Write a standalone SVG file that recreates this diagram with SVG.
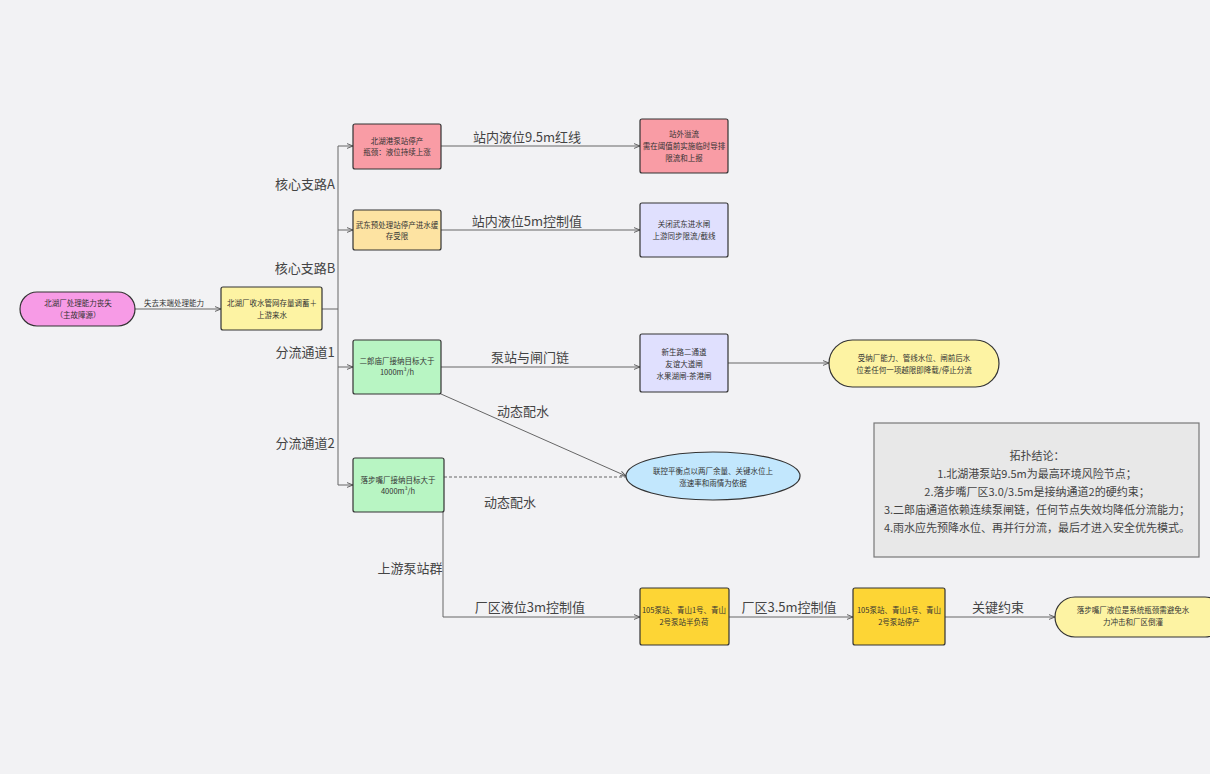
<svg xmlns="http://www.w3.org/2000/svg" width="1210" height="774" viewBox="0 0 1210 774">
<defs>
<marker id="ar" viewBox="0 0 10 10" refX="10" refY="5" markerWidth="6" markerHeight="6" orient="auto"><path d="M0,1 L10,5 L0,9" fill="none" stroke="#555" stroke-width="1.5"/></marker>
</defs>
<style>
text{font-family:"Noto Sans CJK SC","Liberation Sans",sans-serif;fill:#333;text-anchor:middle}
.s{font-size:7.5px}
.l{font-size:13px;fill:#444}
.t{font-size:11px;fill:#444}
.n rect,.n ellipse{stroke:#333;stroke-width:1.2}
.c path{fill:none;stroke:#666;stroke-width:1}
</style>
<rect width="1210" height="774" fill="#f2f2f4"/>
<g class="c">
<path d="M135,309 H221" marker-end="url(#ar)"/>
<path d="M322,309 H338"/>
<path d="M338,146 V485"/>
<path d="M338,146 H353" marker-end="url(#ar)"/>
<path d="M338,230 H353" marker-end="url(#ar)"/>
<path d="M338,367 H353" marker-end="url(#ar)"/>
<path d="M338,485 H353" marker-end="url(#ar)"/>
<path d="M441,146 H640" marker-end="url(#ar)"/>
<path d="M441,230 H640" marker-end="url(#ar)"/>
<path d="M441,367 H640" marker-end="url(#ar)"/>
<path d="M728,363 H829" marker-end="url(#ar)"/>
<path d="M441,394 L626,476" stroke="#999" marker-end="url(#ar)"/>
<path d="M444,477 H626" stroke-dasharray="3,2" stroke="#999"/>
<path d="M443,512 V617 H640" marker-end="url(#ar)"/>
<path d="M729,617 H853" marker-end="url(#ar)"/>
<path d="M945,617 H1055" marker-end="url(#ar)"/>
</g>
<g>
<text class="s" x="174" y="306">失去末端处理能力</text>
<text class="l" x="305" y="189">核心支路A</text>
<text class="l" x="305" y="273">核心支路B</text>
<text class="l" x="305" y="357">分流通道1</text>
<text class="l" x="305" y="448">分流通道2</text>
<text class="l" x="527" y="142">站内液位9.5m红线</text>
<text class="l" x="527" y="226">站内液位5m控制值</text>
<text class="l" x="530" y="362">泵站与闸门链</text>
<text class="l" x="523" y="416">动态配水</text>
<text class="l" x="510" y="507">动态配水</text>
<text class="l" x="410" y="573">上游泵站群</text>
<text class="l" x="530" y="612">厂区液位3m控制值</text>
<text class="l" x="789" y="612">厂区3.5m控制值</text>
<text class="l" x="998" y="612">关键约束</text>
</g>
<g id="n1" class="n"><rect x="20" y="292" width="115" height="34" rx="17" fill="#f79be6"/><text class="s" x="78" y="306">北湖厂处理能力丧失</text><text class="s" x="78" y="318">（主故障源）</text></g>
<g id="n2" class="n"><rect x="221" y="287" width="101" height="43" rx="2" fill="#fdf3a3"/><text class="s" x="272" y="306">北湖厂收水管网存量调蓄＋</text><text class="s" x="272" y="318">上游来水</text></g>
<g id="a" class="n"><rect x="353" y="124" width="88" height="45" rx="2" fill="#f99ca5"/><text class="s" x="397" y="144">北湖港泵站停产</text><text class="s" x="397" y="155">瓶颈：液位持续上涨</text></g>
<g id="b" class="n"><rect x="353" y="210" width="88" height="40" rx="2" fill="#fde3a2"/><text class="s" x="397" y="228">武东预处理站停产进水缓</text><text class="s" x="397" y="239">存受限</text></g>
<g id="c" class="n"><rect x="353" y="340" width="88" height="54" rx="2" fill="#b8f5c3"/><text class="s" x="397" y="364">二郎庙厂接纳目标大于</text><text class="s" x="397" y="375">1000m³/h</text></g>
<g id="d" class="n"><rect x="353" y="458" width="91" height="54" rx="2" fill="#b8f5c3"/><text class="s" x="398" y="483">落步嘴厂接纳目标大于</text><text class="s" x="398" y="494">4000m³/h</text></g>
<g id="a2" class="n"><rect x="640" y="119" width="88" height="54" rx="2" fill="#f99ca5"/><text class="s" x="684" y="137">站外溢流</text><text class="s" x="684" y="149">需在阈值前实施临时导排</text><text class="s" x="684" y="161">限流和上报</text></g>
<g id="b2" class="n"><rect x="640" y="203" width="88" height="54" rx="2" fill="#e0e0fe"/><text class="s" x="684" y="227">关闭武东进水闸</text><text class="s" x="684" y="239">上游同步限流/截线</text></g>
<g id="c2" class="n"><rect x="640" y="334" width="88" height="58" rx="2" fill="#e0e0fe"/><text class="s" x="684" y="355">新生路二通道</text><text class="s" x="684" y="367">友谊大道闸</text><text class="s" x="684" y="379">水果湖闸-茶港闸</text></g>
<g id="c3" class="n"><rect x="829" y="340" width="170" height="47" rx="23.5" fill="#fdf3a3"/><text class="s" x="914" y="361">受纳厂能力、管线水位、闸前后水</text><text class="s" x="914" y="373">位差任何一项越限即降载/停止分流</text></g>
<g id="e" class="n"><ellipse cx="713" cy="476" rx="87" ry="24" fill="#c2e7fd"/><text class="s" x="713" y="474">联控平衡点以两厂余量、关键水位上</text><text class="s" x="713" y="486">涨速率和雨情为依据</text></g>
<g id="f1" class="n"><rect x="640" y="588" width="89" height="57" rx="2" fill="#fdd535"/><text class="s" x="684" y="613">105泵站、青山1号、青山</text><text class="s" x="684" y="625">2号泵站半负荷</text></g>
<g id="f2" class="n"><rect x="853" y="588" width="92" height="57" rx="2" fill="#fdd535"/><text class="s" x="899" y="613">105泵站、青山1号、青山</text><text class="s" x="899" y="625">2号泵站停产</text></g>
<g id="f3" class="n"><rect x="1055" y="597" width="170" height="40" rx="20" fill="#fdf3a3"/><text class="s" x="1133" y="613">落步嘴厂液位是系统瓶颈需避免水</text><text class="s" x="1133" y="625">力冲击和厂区倒灌</text></g>
<g id="sum"><rect x="874" y="423" width="325" height="134" fill="#e8e8e8" stroke="#777" stroke-width="1.2"/>
<text class="t" x="1037" y="460">拓扑结论：</text>
<text class="t" x="1037" y="478">1.北湖港泵站9.5m为最高环境风险节点；</text>
<text class="t" x="1037" y="496">2.落步嘴厂区3.0/3.5m是接纳通道2的硬约束；</text>
<text class="t" x="1037" y="514">3.二郎庙通道依赖连续泵闸链，任何节点失效均降低分流能力；</text>
<text class="t" x="1037" y="532">4.雨水应先预降水位、再并行分流，最后才进入安全优先模式。</text>
</g>
</svg>
